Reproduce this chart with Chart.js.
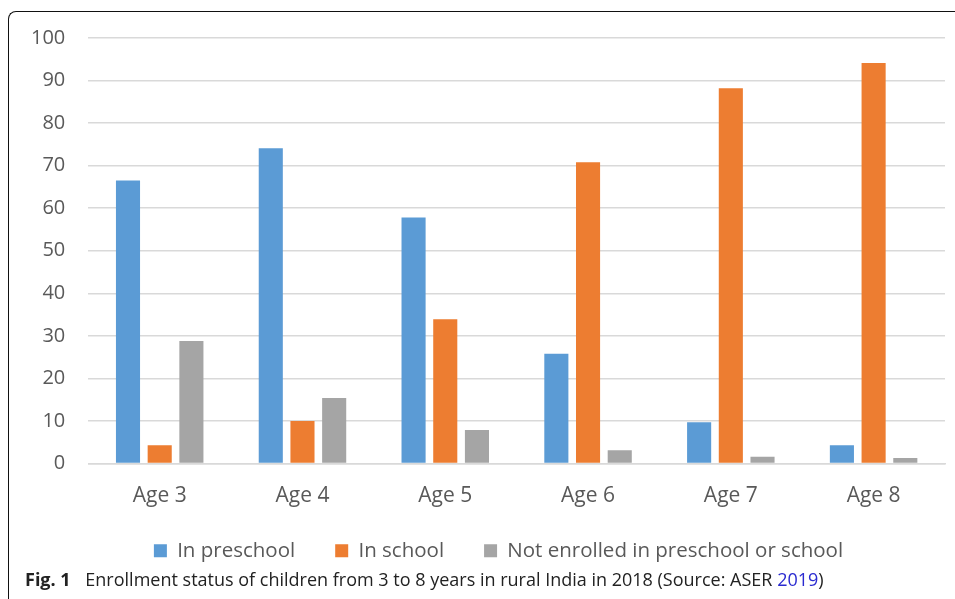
<!DOCTYPE html>
<html>
<head>
<meta charset="utf-8">
<script src="https://cdn.jsdelivr.net/npm/chart.js@4.4.1/dist/chart.umd.min.js"></script>
<style>
  html, body { margin: 0; padding: 0; background: #fff; }
  #wrap { position: relative; width: 955px; height: 599px; overflow: hidden; }
  #frame {
    position: absolute; left: 8px; top: 11px; width: 960px; height: 600px;
    border-top: 1.5px solid #111; border-left: 1.5px solid #111;
    border-top-left-radius: 8px; box-sizing: border-box;
  }
  #chart { position: absolute; left: 0; top: 0; }
  #caption {
    position: absolute; left: 25px; top: 567px; white-space: nowrap;
    font-family: "Open Sans", "Noto Sans", sans-serif; font-size: 18px; color: #222;
  }
  #caption b { font-weight: 700; margin-right: 10px; }
  #caption .ref { color: #2a2ad0; }
</style>
</head>
<body>
<div id="wrap">
  <div id="frame"></div>
  <canvas id="chart" width="955" height="599"></canvas>
  <div id="caption"><b>Fig. 1</b> Enrollment status of children from 3 to 8 years in rural India in 2018 (Source: ASER <span class="ref">2019</span>)</div>
</div>
<script>
// Enrollment shares (%) by age group
const categories = ["Age 3", "Age 4", "Age 5", "Age 6", "Age 7", "Age 8"];
const inPreschool = [66.5, 74.1, 57.8, 25.8, 9.7, 4.3];
const inSchool = [4.3, 10.0, 33.9, 70.8, 88.2, 94.1];
const notEnrolled = [28.8, 15.4, 7.9, 3.1, 1.6, 1.3];
const seriesNames = ["In preschool", "In school", "Not enrolled in preschool or school"];
const yTicks = [0, 10, 20, 30, 40, 50, 60, 70, 80, 90, 100];

const colors = ["#5B9BD5", "#ED7D31", "#A5A5A5"];
const font = "'Open Sans', 'Noto Sans', sans-serif";

// Wide horizontal legend spacing, but pull the legend row up closer to the axis labels
const legendLift = {
  id: "legendLift",
  afterLayout(chart) {
    const lg = chart.legend;
    if (lg) { lg.top -= 9; lg.bottom -= 9; lg.left += 22; lg.right += 22; }
  }
};

new Chart(document.getElementById("chart"), {
  type: "bar",
  data: {
    labels: categories,
    datasets: [inPreschool, inSchool, notEnrolled].map((vals, i) => ({
      label: seriesNames[i],
      data: vals,
      backgroundColor: colors[i],
      borderWidth: 0,
      barPercentage: 0.76,
      categoryPercentage: 0.666
    }))
  },
  plugins: [legendLift],
  options: {
    responsive: false,
    animation: false,
    layout: { padding: { left: 8, right: 10, top: 38, bottom: 19 } },
    plugins: {
      tooltip: { enabled: false },
      legend: {
        position: "bottom",
        labels: {
          boxWidth: 13, boxHeight: 13, padding: 40,
          color: "#595959",
          font: { family: font, size: 20.5 }
        }
      }
    },
    scales: {
      x: {
        grid: { display: false },
        border: { color: "#d9d9d9", width: 1.5 },
        ticks: { color: "#595959", font: { family: font, size: 21 }, padding: 12 },
        afterFit: (scale) => { scale.height = 46; }
      },
      y: {
        min: 0, max: 100,
        afterBuildTicks: (axis) => { axis.ticks = yTicks.map(v => ({ value: v })); },
        grid: { color: "#d9d9d9", lineWidth: 1.5, drawTicks: false },
        border: { display: false },
        ticks: { color: "#595959", font: { family: font, size: 20 }, padding: 23 }
      }
    }
  }
});
</script>
</body>
</html>
